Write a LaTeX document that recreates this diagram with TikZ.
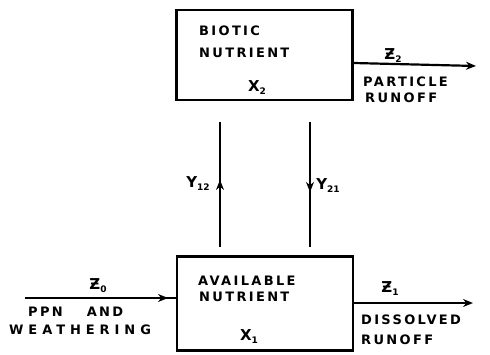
\documentclass[tikz,border=0pt]{standalone}
\usepackage{fontspec}
\newfontfamily\hand[LetterSpace=18]{DejaVu Sans Bold}
\newfontfamily\handwide[LetterSpace=38]{DejaVu Sans Bold}
\newfontfamily\handsym{DejaVu Sans Bold}
\usetikzlibrary{arrows.meta}
\tikzset{
  box/.style={draw, line width=2.2pt, minimum width=176pt, minimum height=94pt, inner sep=0pt},
  lbl/.style={font=\hand\fontsize{13}{14}\selectfont, inner sep=0pt, anchor=west},
  widelbl/.style={font=\handwide\fontsize{13}{14}\selectfont, inner sep=0pt, anchor=west},
  flow/.style={line width=2.2pt, -{Stealth[length=10pt,width=8pt]}},
  wire/.style={line width=2.2pt},
  sub/.style={font=\handsym\fontsize{15}{16}\selectfont, inner sep=0pt}
}
\newcommand{\sbs}[1]{\raisebox{-3pt}{\fontsize{9}{10}\selectfont #1}}
\begin{document}
\begin{tikzpicture}[x=1pt,y=-1pt]
\useasboundingbox (0,0) rectangle (490,355);
% boxes
\node[box, minimum height=90pt] (top) at (264.5,55) {};
\node[box] (bot) at (265,303.5) {};
% top box text
\node[lbl] (t1) at (199,31) {BIOTIC};
\node[lbl] (t2) at (199,53) {NUTRIENT};
\node[sub] (x2) at (257,88) {X\sbs{2}};
% bottom box text
\node[lbl] (b1) at (198,281) {AVAILABLE};
\node[lbl] (b2) at (199,297) {NUTRIENT};
\node[sub] (x1) at (249,337) {X\sbs{1}};
% vertical flows
\coordinate (ub) at (220,247);
\coordinate (ut) at (220,122);
\coordinate (um) at (220,180);
\draw[wire] (ub) -- (ut);
\draw[flow] (ub) -- (um);
\coordinate (dt) at (310,122);
\coordinate (db) at (310,247);
\coordinate (dm) at (310,192);
\draw[wire] (dt) -- (db);
\draw[flow] (dt) -- (dm);
\node[sub] (y12) at (198,184) {Y\sbs{12}};
\node[sub] (y21) at (328,186) {Y\sbs{21}};
% top output
\coordinate (o2) at (476,66);
\draw[flow] (top.east |- 0,63) -- (o2);
\node[sub] (z2) at (393,56) {Ƶ\sbs{2}};
\node[lbl] (p1) at (363,82) {PARTICLE};
\node[lbl] (p2) at (365,98) {RUNOFF};
% input
\coordinate (in) at (25,298);
\coordinate (inm) at (168,298);
\draw[wire] (in) -- (bot.west |- in);
\draw[flow] (in) -- (inm);
\node[sub] (z0) at (98,286) {Ƶ\sbs{0}};
\node[lbl] (w1) at (28,312) {PPN\hspace{24pt}AND};
\node[widelbl] (w2) at (9,330) {WEATHERING};
% bottom output
\coordinate (o1) at (473,303);
\draw[flow] (bot.east |- o1) -- (o1);
\node[sub] (z1) at (390,289) {Ƶ\sbs{1}};
\node[lbl] (d1) at (361,320) {DISSOLVED};
\node[lbl] (d2) at (361,340) {RUNOFF};
\end{tikzpicture}
\end{document}
